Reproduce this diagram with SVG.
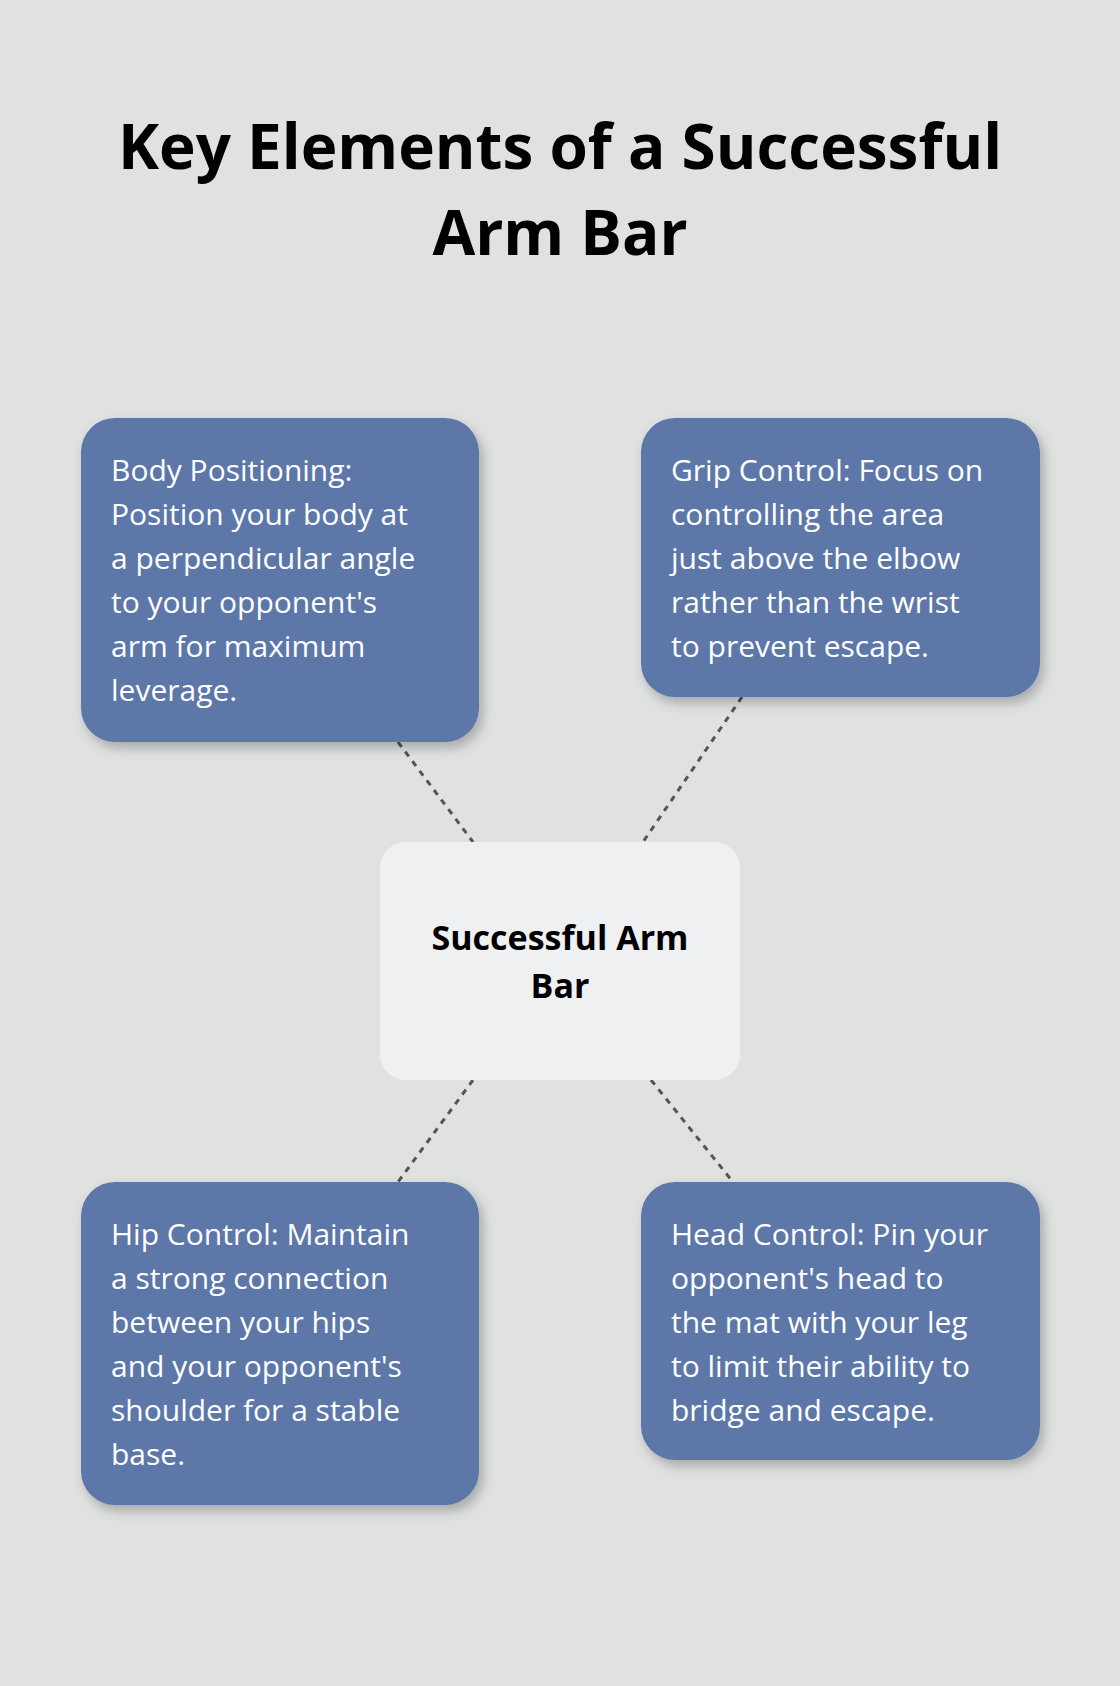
<svg xmlns="http://www.w3.org/2000/svg" width="1120" height="1686" viewBox="0 0 1120 1686">
<defs>
<filter id="sh" x="-20%" y="-20%" width="140%" height="140%"><feDropShadow dx="4" dy="6" stdDeviation="6" flood-color="#000" flood-opacity="0.25"/></filter>
<style>
.t{font-family:"Open Sans","Noto Sans",sans-serif;fill:#000;font-weight:700}
.b{fill:#5d77a8;filter:url(#sh)}
.bt{font-family:"Open Sans","Noto Sans",sans-serif;fill:#fff;font-size:30px}
.c{stroke:#555;stroke-width:3;stroke-dasharray:6 6;fill:none}
</style>
</defs>
<rect width="1120" height="1686" fill="#e0e2e1"/>
<text class="t" x="560" y="169" font-size="62" text-anchor="middle">Key Elements of a Successful</text>
<text class="t" x="560" y="255" font-size="62" text-anchor="middle">Arm Bar</text>
<g id="connectors">
<line class="c" x1="398" y1="742" x2="473" y2="842"/>
<line class="c" x1="742" y1="697" x2="643" y2="842"/>
<line class="c" x1="473" y1="1080" x2="398" y2="1182"/>
<line class="c" x1="651" y1="1080" x2="733" y2="1182"/>
</g>
<g id="center">
<rect x="380" y="842" width="360" height="238" rx="26" fill="#eff0f2"/>
<text class="t" x="560" y="950" font-size="34" text-anchor="middle">Successful Arm</text>
<text class="t" x="560" y="998" font-size="34" text-anchor="middle">Bar</text>
</g>
<g id="body">
<rect class="b" x="81" y="418" width="398" height="324" rx="34"/>
<text class="bt" x="111" y="481">Body Positioning:</text>
<text class="bt" x="111" y="525">Position your body at</text>
<text class="bt" x="111" y="569">a perpendicular angle</text>
<text class="bt" x="111" y="613">to your opponent's</text>
<text class="bt" x="111" y="657">arm for maximum</text>
<text class="bt" x="111" y="701">leverage.</text>
</g>
<g id="grip">
<rect class="b" x="641" y="418" width="399" height="279" rx="34"/>
<text class="bt" x="671" y="481">Grip Control: Focus on</text>
<text class="bt" x="671" y="525">controlling the area</text>
<text class="bt" x="671" y="569">just above the elbow</text>
<text class="bt" x="671" y="613">rather than the wrist</text>
<text class="bt" x="671" y="657">to prevent escape.</text>
</g>
<g id="hip">
<rect class="b" x="81" y="1182" width="398" height="323" rx="34"/>
<text class="bt" x="111" y="1245">Hip Control: Maintain</text>
<text class="bt" x="111" y="1289">a strong connection</text>
<text class="bt" x="111" y="1333">between your hips</text>
<text class="bt" x="111" y="1377">and your opponent's</text>
<text class="bt" x="111" y="1421">shoulder for a stable</text>
<text class="bt" x="111" y="1465">base.</text>
</g>
<g id="head">
<rect class="b" x="641" y="1182" width="399" height="278" rx="34"/>
<text class="bt" x="671" y="1245">Head Control: Pin your</text>
<text class="bt" x="671" y="1289">opponent's head to</text>
<text class="bt" x="671" y="1333">the mat with your leg</text>
<text class="bt" x="671" y="1377">to limit their ability to</text>
<text class="bt" x="671" y="1421">bridge and escape.</text>
</g>
</svg>
